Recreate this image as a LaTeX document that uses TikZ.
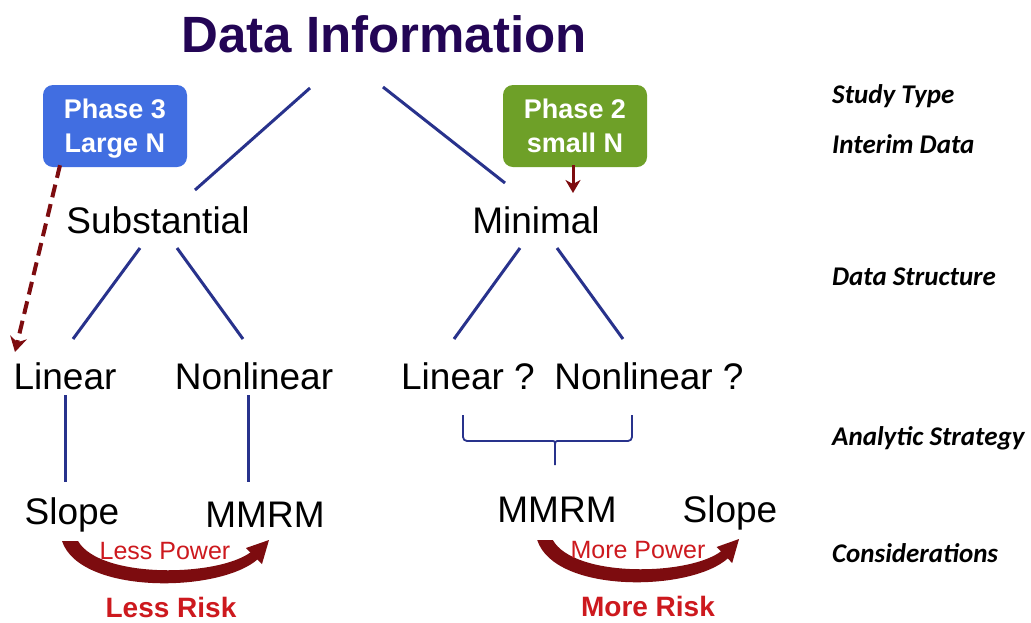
\documentclass[tikz,border=0pt]{standalone}
\usepackage{fontspec}
\setmainfont{Liberation Sans}
\newfontfamily\sidefont{Carlito}
\usetikzlibrary{calc,arrows.meta}
\definecolor{titlepurple}{RGB}{35,5,85}
\definecolor{linkblue}{RGB}{40,50,140}
\definecolor{boxblue}{RGB}{65,110,225}
\definecolor{boxgreen}{RGB}{110,160,40}
\definecolor{arrowred}{RGB}{125,12,15}
\definecolor{textred}{RGB}{205,25,30}
\tikzset{riskarrow/.pic={
	\fill[arrowred] (-8,0) .. controls (10,54) and (150,52) .. (188,18) -- (181,11) .. controls (148,36) and (30,38) .. (8,0) -- cycle;
	\fill[arrowred] (199,-1) -- (176,7) -- (192,23) -- cycle;
}}

\begin{document}
\begin{tikzpicture}[x=1pt, y=-1pt,
		txt/.style={inner sep=0pt, anchor=base, font=\fontsize{37}{40}\selectfont},
		side/.style={inner sep=0pt, anchor=base west, font=\sidefont\bfseries\itshape\fontsize{27}{30}\selectfont},
		phase/.style={rounded corners=10pt, text=white, align=center, minimum width=144pt, minimum height=82pt, inner sep=0pt, font=\bfseries\fontsize{27}{34}\selectfont},
		branch/.style={draw=linkblue, line width=3pt},
		redtxt/.style={inner sep=0pt, anchor=base, text=textred}]
	\useasboundingbox[fill=white] (0,0) rectangle (1031,622);

	\node[txt, text=titlepurple, font=\bfseries\fontsize{51}{56}\selectfont] (title) at (384,52) {Data Information};
	\node[phase, fill=boxblue] (phase3) at (115,126) {Phase 3\\\smash{Large N}};
	\node[phase, fill=boxgreen] (phase2) at (575,126) {Phase 2\\small N};

	\node[txt] (subst) at (158,233) {Substantial};
	\node[txt] (minimal) at (536,233) {Minimal};
	\node[txt] (linear) at (65,389) {Linear};
	\node[txt] (nonlin) at (254,389) {Nonlinear};
	\node[txt] (linq) at (468,389) {Linear ?};
	\node[txt] (nonlinq) at (649,389) {Nonlinear ?};
	\node[txt] (slopeA) at (72,524) {Slope};
	\node[txt] (mmrmA) at (265,527) {MMRM};
	\node[txt] (mmrmB) at (557,522) {MMRM};
	\node[txt] (slopeB) at (730,522) {Slope};

	\node[side] (study) at (832,103) {Study Type};
	\node[side] (interim) at (832,153) {Interim Data};
	\node[side] (struct) at (832,285) {Data Structure};
	\node[side] (strategy) at (832,445) {Analytic Strategy};
	\node[side] (consider) at (832,562) {Considerations};

	\draw[branch] ($(title.base)+(-74,36)$) -- ($(subst.base)+(37,-43)$);
	\draw[branch] ($(title.base)+(-1,35)$) -- ($(minimal.base)+(-31,-50)$);
	\draw[branch] ($(subst.base)+(-18,15)$) -- ($(linear.base)+(8,-50)$);
	\draw[branch] ($(subst.base)+(19,15)$) -- ($(nonlin.base)+(-11,-50)$);
	\draw[branch] ($(minimal.base)+(-16,15)$) -- ($(linq.base)+(-14,-50)$);
	\draw[branch] ($(minimal.base)+(21,15)$) -- ($(nonlinq.base)+(-26,-50)$);
	\draw[branch] ($(linear.base)+(0,6)$) -- ($(linear.base |- slopeA.base)+(0,-42)$);
	\draw[branch] ($(nonlin.base)+(-6,6)$) -- ($(nonlin.base |- mmrmA.base)+(-6,-45)$);

	\draw[linkblue, line width=1.8pt, rounded corners=4pt] (463,415) -- (463,441) -- (549,441) .. controls (555,441) .. (555,450) -- (555,465);
	\draw[linkblue, line width=1.8pt, rounded corners=4pt] (632,415) -- (632,441) -- (561,441) .. controls (555,441) .. (555,450);

	\draw[arrowred, line width=4pt, dash pattern=on 13pt off 7pt, -{Stealth[length=15pt,width=17pt,inset=5pt]}] ($(phase3.south)+(-55,-2)$) -- ($(linear.base)+(-50,-37)$);
	\draw[arrowred, line width=3pt, -{Stealth[length=13pt,width=15pt,inset=4pt]}] ($(phase2.south)+(-2,-2)$) -- ($(minimal.base)+(37,-40)$);

	\pic at (70,541) {riskarrow};
	\pic[xscale=.975] at (545,540) {riskarrow};
	\node[redtxt, font=\fontsize{25}{28}\selectfont] (lesspow) at (165,559) {Less Power};
	\node[redtxt, font=\fontsize{25}{28}\selectfont] (morepow) at (638,558) {More Power};
	\node[redtxt, font=\bfseries\fontsize{28}{32}\selectfont] (lessrisk) at (171,617) {Less Risk};
	\node[redtxt, font=\bfseries\fontsize{28}{32}\selectfont] (morerisk) at (648,616) {More Risk};
\end{tikzpicture}
\end{document}
